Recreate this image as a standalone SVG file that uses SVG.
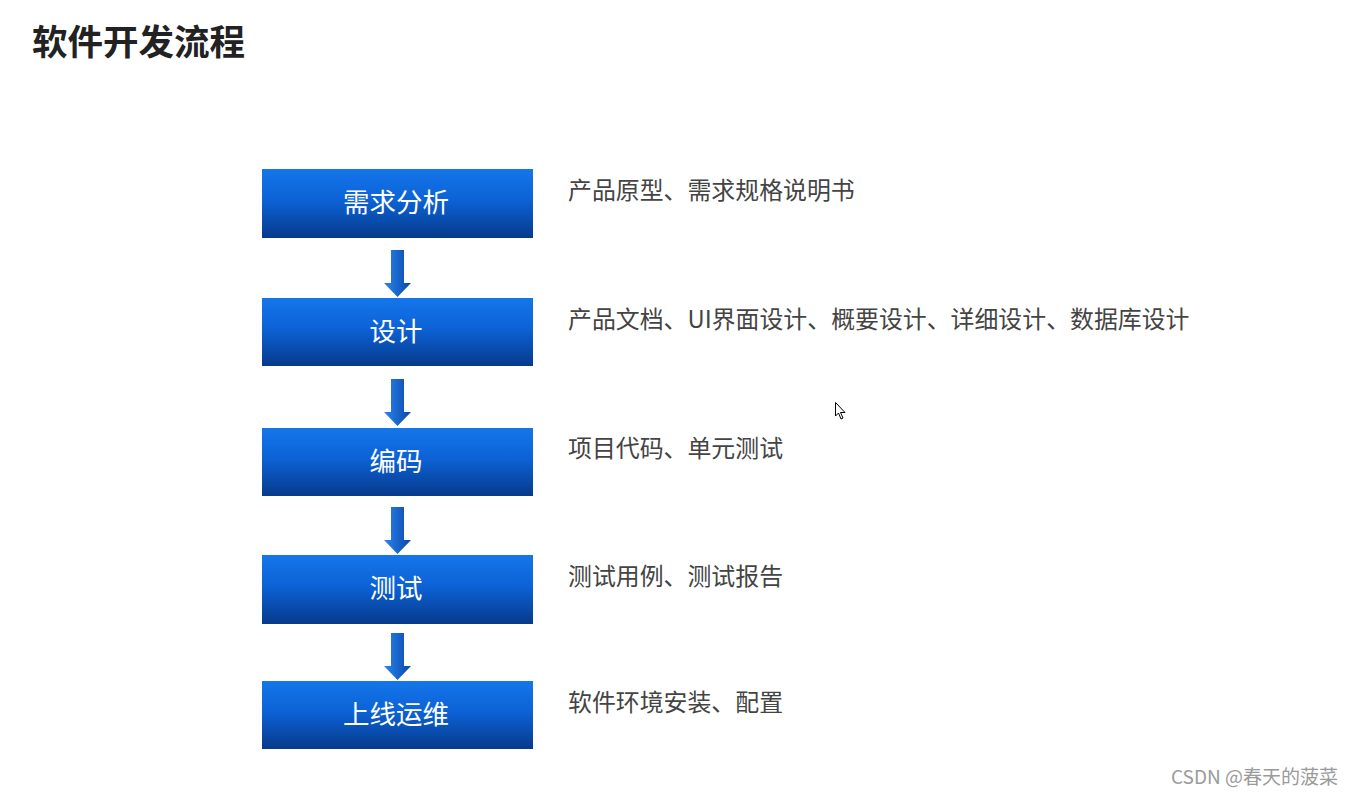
<svg xmlns="http://www.w3.org/2000/svg" width="1357" height="796" viewBox="0 0 1357 796">
<defs>
<linearGradient id="boxg" x1="0" y1="0" x2="0" y2="1">
<stop offset="0" stop-color="#1476ea"/>
<stop offset="0.45" stop-color="#0c62d6"/>
<stop offset="1" stop-color="#063a8a"/>
</linearGradient>
<linearGradient id="arrg" x1="0" y1="0" x2="1" y2="0">
<stop offset="0" stop-color="#2a86ee"/>
<stop offset="1" stop-color="#0a46a8"/>
</linearGradient>
<path id="arrow" d="M391,0 H404 V33 H411 L397.5,47 L384,33 H391 Z" fill="url(#arrg)"/>
</defs>
<style>
.box{fill:url(#boxg);}
.lbl{font-family:"Noto Sans CJK SC","Noto Sans",sans-serif;font-size:26.5px;fill:#ffffff;text-anchor:middle;}
.desc{font-family:"Noto Sans CJK SC","Noto Sans",sans-serif;font-size:23.9px;fill:#444444;}
.title{font-family:"Noto Sans CJK SC",sans-serif;font-size:35.5px;font-weight:bold;fill:#222222;}
.wm{font-family:"Noto Sans CJK SC","Noto Sans",sans-serif;font-size:19px;fill:#9a9a9a;}
</style>
<rect width="1357" height="796" fill="#ffffff"/>
<text class="title" x="32" y="55">软件开发流程</text>
<g id="connectors">
<use href="#arrow" y="250"/>
<use href="#arrow" y="379"/>
<use href="#arrow" y="507"/>
<use href="#arrow" y="633"/>
</g>
<g id="n1"><rect class="box" x="262" y="169" width="271" height="69"/><text class="lbl" x="396" y="212">需求分析</text><text class="desc" x="568" y="199">产品原型、需求规格说明书</text></g>
<g id="n2"><rect class="box" x="262" y="298" width="271" height="68"/><text class="lbl" x="396" y="341">设计</text><text class="desc" x="568" y="328">产品文档、UI界面设计、概要设计、详细设计、数据库设计</text></g>
<g id="n3"><rect class="box" x="262" y="428" width="271" height="68"/><text class="lbl" x="396" y="471">编码</text><text class="desc" x="568" y="457">项目代码、单元测试</text></g>
<g id="n4"><rect class="box" x="262" y="555" width="271" height="69"/><text class="lbl" x="396" y="598">测试</text><text class="desc" x="568" y="585">测试用例、测试报告</text></g>
<g id="n5"><rect class="box" x="262" y="681" width="271" height="68"/><text class="lbl" x="396" y="724">上线运维</text><text class="desc" x="568" y="711">软件环境安装、配置</text></g>
<path d="M835.5,402.5 V416 L838.5,413 L841,419 L843,418 L840.5,412.5 H845 Z" fill="#ffffff" stroke="#000000" stroke-width="1"/>
<text class="wm" x="1171" y="784">CSDN @春天的菠菜</text>
</svg>
